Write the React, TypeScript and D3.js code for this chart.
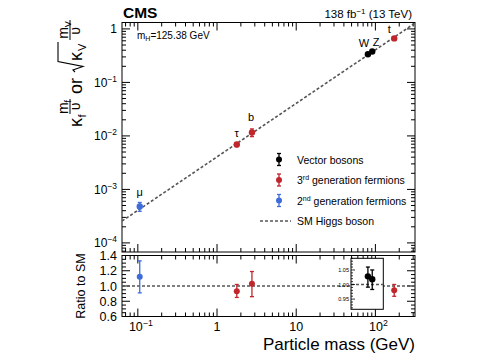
import React from 'react';
import * as d3 from 'd3';

// ─── Data ─────────────────────────────────────────────────────────────────────
const particles = ['μ', 'τ', 'b', 'W', 'Z', 't'];
const masses = [0.1057, 1.777, 2.76, 80.4, 91.19, 172.76];
const groups = ['gen2', 'gen3', 'gen3', 'vector', 'vector', 'gen3'];
const couplings = [4.8e-4, 6.9e-3, 1.16e-2, 0.336, 0.378, 0.665];
const couplingErrUp = [0.9e-4, 0.6e-3, 1.9e-3, 0.01, 0.012, 0.05];
const couplingErrDown = [0.9e-4, 0.6e-3, 1.9e-3, 0.01, 0.012, 0.05];
const ratios = [1.12, 0.93, 1.03, null, null, 0.945];
const ratioErrUp = [0.21, 0.09, 0.16, 0, 0, 0.075];
const ratioErrDown = [0.21, 0.08, 0.17, 0, 0, 0.08];
// W and Z ratios shown in the zoomed inset
const insetRatios = [null, null, null, 1.028, 1.018, null];
const insetErrUp = [0, 0, 0, 0.032, 0.032, 0];
const insetErrDown = [0, 0, 0, 0.037, 0.035, 0];
const smLine = [[0.063, 0.063 / 246.22], [316, 316 / 246.22]];

const legendLabels = ['Vector bosons', '3rd generation fermions', '2nd generation fermions', 'SM Higgs boson'];
const ratioTicks = [0.6, 0.8, 1.0, 1.2, 1.4];
const insetTicks = [0.95, 1.0, 1.05];

const COLORS: Record<string, string> = { vector: '#000000', gen3: '#c0262c', gen2: '#3e6cd9' };
const FONT = '"Liberation Sans", Arial, Helvetica, sans-serif';

// ─── Layout ───────────────────────────────────────────────────────────────────
const L = 122, R = 415;
const T1 = 22.5, B1 = 252;
const T2 = 255.5, B2 = 316.5;
const INSET = { x0: 351, x1: 383.3, y0: 258.3, y1: 309.3 };

const x = d3.scaleLog().domain([Math.pow(10, -1.2), Math.pow(10, 2.5)]).range([L, R]);
const y = d3.scaleLog().domain([Math.pow(10, -4.17), Math.pow(10, 0.12)]).range([B1, T1]);
const yr = d3.scaleLinear().domain([0.6, 1.4]).range([B2, T2]);
const yi = d3.scaleLinear().domain([0.915, 1.09]).range([INSET.y1, INSET.y0]);

const isDecade = (v: number) => Math.abs(Math.log10(v) - Math.round(Math.log10(v))) < 1e-6;
const xTicks = x.ticks();
const yTicks = y.ticks();

function Pow10({ e, x: px, y: py, anchor, size = 12 }: any) {
  if (e === 0) return <text x={px} y={py} textAnchor={anchor} fontSize={size}>1</text>;
  if (e === 1) return <text x={px} y={py} textAnchor={anchor} fontSize={size}>10</text>;
  return (
    <text x={px} y={py} textAnchor={anchor} fontSize={size}>
      10<tspan dy={-5} fontSize={size * 0.7}>{e < 0 ? '\u2212' + -e : e}</tspan>
    </text>
  );
}

function ErrPoint({ cx, cy, yUp, yDown, color, r = 3 }: any) {
  return (
    <g>
      <line x1={cx} x2={cx} y1={yUp} y2={yDown} stroke={color} strokeWidth={1.3} />
      <line x1={cx - 2} x2={cx + 2} y1={yUp} y2={yUp} stroke={color} strokeWidth={1.3} />
      <line x1={cx - 2} x2={cx + 2} y1={yDown} y2={yDown} stroke={color} strokeWidth={1.3} />
      <circle cx={cx} cy={cy} r={r} fill={color} />
    </g>
  );
}

// x ticks for a panel (bottom up, top down)
function XTicks({ top, bottom }: any) {
  return (
    <g stroke="#000" strokeWidth={1}>
      {xTicks.map((t, i) => {
        const len = isDecade(t) ? 8 : 4;
        const px = x(t);
        return (
          <g key={i}>
            <line x1={px} x2={px} y1={bottom} y2={bottom - len} />
            <line x1={px} x2={px} y1={top} y2={top + len} />
          </g>
        );
      })}
    </g>
  );
}

export default function App() {
  const pointLabelOffsets = [[0, -14], [0, -12], [-1, -15], [-4, -11], [4, -10], [-5, -9]];
  const ratioMinor = d3.range(0.6, 1.4001, 0.05);
  const insetMinor = d3.range(0.92, 1.0901, 0.01);

  return (
    <svg width={485} height={360} style={{ position: 'absolute', left: 0, top: 0, background: '#fff' }}
      fontFamily={FONT}>
      <rect x={0} y={0} width={485} height={360} fill="#fff" />

      {/* Headers */}
      <text x={123} y={17.5} fontSize={15.5} fontWeight={700}>CMS</text>
      <text x={412} y={17.5} fontSize={11.5} textAnchor="end">
        138 fb<tspan dy={-4} fontSize={8}>−1</tspan><tspan dy={4}> (13 TeV)</tspan>
      </text>
      <text x={137} y={38.5} fontSize={10}>
        m<tspan dy={2.5} fontSize={7}>H</tspan><tspan dy={-2.5}>=125.38 GeV</tspan>
      </text>

      {/* ── Top panel ── */}
      <rect x={L} y={T1} width={R - L} height={B1 - T1} fill="none" stroke="#000" strokeWidth={1} />
      <XTicks top={T1} bottom={B1} />
      <g stroke="#000" strokeWidth={1}>
        {yTicks.map((t, i) => {
          const len = isDecade(t) ? 8 : 4;
          const py = y(t);
          if (py < T1 || py > B1) return null;
          return (
            <g key={i}>
              <line x1={L} x2={L + len} y1={py} y2={py} />
              <line x1={R} x2={R - len} y1={py} y2={py} />
            </g>
          );
        })}
      </g>
      {yTicks.filter(isDecade).map((t, i) => (
        <Pow10 key={i} e={Math.round(Math.log10(t))} x={117} y={y(t) + 4.5} anchor="end" />
      ))}

      <line x1={x(smLine[0][0])} y1={y(smLine[0][1])} x2={x(smLine[1][0])} y2={y(smLine[1][1])}
        stroke="#555" strokeWidth={1.6} strokeDasharray="3,2" />

      {particles.map((p, i) => {
        const cx = x(masses[i]);
        const cy = y(couplings[i]);
        const [dx, dy] = pointLabelOffsets[i];
        return (
          <g key={p}>
            <ErrPoint cx={cx} cy={cy} yUp={y(couplings[i] + couplingErrUp[i])}
              yDown={y(couplings[i] - couplingErrDown[i])} color={COLORS[groups[i]]} r={3.2} />
            <text x={cx + dx} y={cy + dy + 4} fontSize={11} textAnchor="middle">{p}</text>
          </g>
        );
      })}

      {/* Legend */}
      {['vector', 'gen3', 'gen2'].map((g, i) => {
        const ly = 159.5 + i * 20.5;
        return (
          <g key={g}>
            <ErrPoint cx={279} cy={ly} yUp={ly - 6} yDown={ly + 6} color={COLORS[g]} />
          </g>
        );
      })}
      <text x={297} y={163.5} fontSize={10.5}>{legendLabels[0]}</text>
      <text x={297} y={184} fontSize={10.5}>3<tspan dy={-4} fontSize={7}>rd</tspan><tspan dy={4}> generation fermions</tspan></text>
      <text x={297} y={204.5} fontSize={10.5}>2<tspan dy={-4} fontSize={7}>nd</tspan><tspan dy={4}> generation fermions</tspan></text>
      <line x1={260} x2={291} y1={221} y2={221} stroke="#555" strokeWidth={1.6} strokeDasharray="3,2" />
      <text x={297} y={225} fontSize={10.5}>{legendLabels[3]}</text>

      {/* Y title, rotated */}
      <g transform="translate(80,74) rotate(-90)" fontSize={18}>
        <text x={-53} y={2}>κ</text>
        <text x={-43.5} y={6} fontSize={11}>f</text>
        <text x={-33} y={-12} fontSize={14} textAnchor="middle">m<tspan dy={3} fontSize={9}>f</tspan></text>
        <line x1={-40} x2={-25} y1={-10} y2={-10} stroke="#000" strokeWidth={1} />
        <text x={-32.5} y={-0.5} fontSize={14} textAnchor="middle">υ</text>
        <text x={-12} y={2} textAnchor="middle">or</text>
        <path d="M2,-5 L4,-7 L7.5,3 L12.5,-22 L32,-22" fill="none" stroke="#000" strokeWidth={1.1} />
        <text x={13} y={2}>κ</text>
        <text x={23} y={6} fontSize={11}>V</text>
        <text x={44} y={-12} fontSize={14} textAnchor="middle">m<tspan dy={3} fontSize={9}>V</tspan></text>
        <line x1={34} x2={54} y1={-10} y2={-10} stroke="#000" strokeWidth={1} />
        <text x={43} y={-0.5} fontSize={14} textAnchor="middle">υ</text>
      </g>

      {/* ── Ratio panel ── */}
      <rect x={L} y={T2} width={R - L} height={B2 - T2} fill="none" stroke="#000" strokeWidth={1} />
      <XTicks top={T2} bottom={B2} />
      <g stroke="#000" strokeWidth={1}>
        {ratioMinor.map((t, i) => {
          const major = ratioTicks.some(m => Math.abs(m - t) < 1e-6);
          const len = major ? 8 : 4;
          return (
            <g key={i}>
              <line x1={L} x2={L + len} y1={yr(t)} y2={yr(t)} />
              <line x1={R} x2={R - len} y1={yr(t)} y2={yr(t)} />
            </g>
          );
        })}
      </g>
      {ratioTicks.map(t => (
        <text key={t} x={117} y={yr(t) + 4.5} fontSize={12.5} textAnchor="end">{t.toFixed(1)}</text>
      ))}
      <line x1={L} x2={R} y1={yr(1)} y2={yr(1)} stroke="#555" strokeWidth={1.6} strokeDasharray="3,2" />

      {particles.map((p, i) => ratios[i] == null ? null : (
        <ErrPoint key={p} cx={x(masses[i])} cy={yr(ratios[i] as number)}
          yUp={yr((ratios[i] as number) + ratioErrUp[i])} yDown={yr((ratios[i] as number) - ratioErrDown[i])}
          color={COLORS[groups[i]]} />
      ))}

      {/* Inset for W, Z */}
      <rect x={INSET.x0} y={INSET.y0} width={INSET.x1 - INSET.x0} height={INSET.y1 - INSET.y0}
        fill="#fff" stroke="#000" strokeWidth={1} />
      <line x1={INSET.x0} x2={INSET.x1} y1={yi(1)} y2={yi(1)} stroke="#555" strokeWidth={1.4} strokeDasharray="3,2" />
      <g stroke="#000" strokeWidth={0.8}>
        {insetMinor.map((t, i) => {
          const major = insetTicks.some(m => Math.abs(m - t) < 1e-6);
          return <line key={i} x1={INSET.x0} x2={INSET.x0 + (major ? 4 : 2)} y1={yi(t)} y2={yi(t)} />;
        })}
      </g>
      {insetTicks.map(t => (
        <text key={t} x={349} y={yi(t) + 2} fontSize={5.5} textAnchor="end">{t.toFixed(2)}</text>
      ))}
      {particles.map((p, i) => insetRatios[i] == null ? null : (
        <ErrPoint key={p} cx={x(masses[i])} cy={yi(insetRatios[i] as number)}
          yUp={yi((insetRatios[i] as number) + insetErrUp[i])} yDown={yi((insetRatios[i] as number) - insetErrDown[i])}
          color={COLORS[groups[i]]} r={3.2} />
      ))}

      {/* x tick labels */}
      {xTicks.filter(isDecade).map((t, i) => {
        const e = Math.round(Math.log10(t));
        const shift = e === -1 || e === 2 ? 3 : 0;
        return <Pow10 key={i} e={e} x={x(t) + shift} y={331} anchor="middle" size={12.5} />;
      })}

      <text x={415} y={350} fontSize={17} textAnchor="end">Particle mass (GeV)</text>
      <text transform="translate(85,286) rotate(-90)" fontSize={12.5} textAnchor="middle">Ratio to SM</text>
    </svg>
  );
}
